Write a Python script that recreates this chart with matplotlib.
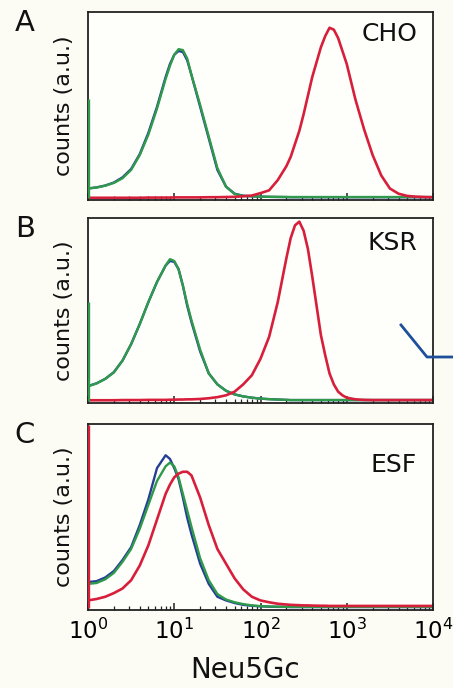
import numpy as np
import matplotlib
matplotlib.use("Agg")
import matplotlib.pyplot as plt
from matplotlib.lines import Line2D

plt.rcParams["font.family"] = ["DejaVu Sans"]

# log10 channel positions (decades of Neu5Gc signal), denser near the peaks
decades = [0.0, 0.1, 0.2, 0.3, 0.4, 0.5, 0.6, 0.7, 0.8, 0.9,
           0.95, 1.0, 1.05, 1.1, 1.15, 1.2,
           1.3, 1.4, 1.5, 1.6, 1.7, 1.8, 1.9, 2.0, 2.1, 2.2, 2.3,
           2.35, 2.4, 2.45, 2.5, 2.55, 2.6,
           2.7, 2.75, 2.8, 2.85, 2.9, 2.95,
           3.0, 3.1, 3.2, 3.3, 3.4, 3.5, 3.6, 3.7, 3.8, 3.9, 4.0]

# panel A - CHO
cho_blue = [0.05, 0.056, 0.066, 0.082, 0.11, 0.155, 0.235, 0.35, 0.49, 0.65,
            0.72, 0.77, 0.79, 0.785, 0.74, 0.66,
            0.49, 0.32, 0.15, 0.06, 0.022, 0.011, 0.008, 0.006, 0.005, 0.004, 0.004,
            0.003, 0.003, 0.003, 0.003, 0.003, 0.003,
            0.003, 0.003, 0.003, 0.003, 0.003, 0.003,
            0.003, 0.003, 0.003, 0.003, 0.003, 0.003, 0.003, 0.003, 0.003, 0.003, 0.003]
cho_green = [0.05, 0.055, 0.065, 0.08, 0.105, 0.15, 0.23, 0.34, 0.48, 0.64,
             0.71, 0.77, 0.80, 0.795, 0.75, 0.66,
             0.50, 0.33, 0.16, 0.06, 0.02, 0.01, 0.008, 0.006, 0.005, 0.005, 0.004,
             0.004, 0.004, 0.004, 0.004, 0.004, 0.004,
             0.004, 0.004, 0.004, 0.004, 0.004, 0.004,
             0.004, 0.004, 0.004, 0.004, 0.004, 0.004, 0.004, 0.004, 0.004, 0.004, 0.004]
cho_red = [0.0, 0.0, 0.0, 0.0, 0.0, 0.0, 0.0, 0.001, 0.001, 0.001,
           0.001, 0.002, 0.002, 0.002, 0.002, 0.002,
           0.002, 0.003, 0.003, 0.004, 0.005, 0.008, 0.012, 0.025, 0.04, 0.095, 0.17,
           0.22, 0.29, 0.36, 0.45, 0.55, 0.65,
           0.81, 0.87, 0.915, 0.905, 0.86, 0.79,
           0.72, 0.53, 0.37, 0.23, 0.12, 0.05, 0.022, 0.01, 0.006, 0.004, 0.003]
cho_spike = 0.53

# panel B - KSR
ksr_blue = [0.08, 0.096, 0.12, 0.157, 0.22, 0.31, 0.42, 0.54, 0.65, 0.74,
            0.765, 0.76, 0.72, 0.63, 0.52, 0.43,
            0.27, 0.15, 0.09, 0.055, 0.035, 0.024, 0.017, 0.012, 0.009, 0.007, 0.005,
            0.004, 0.004, 0.004, 0.004, 0.004, 0.004,
            0.004, 0.004, 0.004, 0.004, 0.004, 0.004,
            0.004, 0.004, 0.004, 0.004, 0.004, 0.004, 0.004, 0.004, 0.004, 0.004, 0.004]
ksr_green = [0.08, 0.095, 0.12, 0.155, 0.22, 0.31, 0.42, 0.54, 0.65, 0.74,
             0.775, 0.765, 0.72, 0.63, 0.53, 0.44,
             0.28, 0.15, 0.09, 0.055, 0.035, 0.024, 0.017, 0.012, 0.009, 0.007, 0.005,
             0.004, 0.004, 0.004, 0.004, 0.004, 0.004,
             0.004, 0.004, 0.004, 0.004, 0.004, 0.004,
             0.004, 0.004, 0.004, 0.004, 0.004, 0.004, 0.004, 0.004, 0.004, 0.004, 0.004]
ksr_red = [0.003, 0.003, 0.003, 0.003, 0.004, 0.004, 0.004, 0.005, 0.005, 0.005,
           0.006, 0.006, 0.007, 0.007, 0.008, 0.008,
           0.01, 0.014, 0.02, 0.03, 0.05, 0.09, 0.14, 0.23, 0.35, 0.54, 0.78,
           0.89, 0.96, 0.98, 0.93, 0.83, 0.68,
           0.36, 0.25, 0.15, 0.09, 0.05, 0.03,
           0.017, 0.008, 0.005, 0.004, 0.004, 0.004, 0.004, 0.004, 0.004, 0.004, 0.004]
ksr_spike = 0.54

# panel C - ESF
esf_blue = [0.14, 0.145, 0.165, 0.2, 0.26, 0.33, 0.45, 0.59, 0.76, 0.83,
            0.81, 0.76, 0.70, 0.60, 0.49, 0.40,
            0.24, 0.13, 0.06, 0.04, 0.026, 0.016, 0.011, 0.008, 0.006, 0.005, 0.005,
            0.004, 0.004, 0.004, 0.004, 0.004, 0.004,
            0.004, 0.004, 0.004, 0.004, 0.004, 0.004,
            0.004, 0.004, 0.004, 0.004, 0.004, 0.004, 0.004, 0.004, 0.004, 0.004, 0.004]
esf_green = [0.13, 0.135, 0.155, 0.19, 0.25, 0.32, 0.43, 0.56, 0.69, 0.77,
             0.79, 0.77, 0.71, 0.62, 0.53, 0.44,
             0.27, 0.15, 0.075, 0.045, 0.03, 0.02, 0.013, 0.009, 0.007, 0.006, 0.005,
             0.005, 0.005, 0.005, 0.005, 0.005, 0.005,
             0.005, 0.005, 0.005, 0.005, 0.005, 0.005,
             0.005, 0.005, 0.005, 0.005, 0.005, 0.005, 0.005, 0.005, 0.005, 0.005, 0.005]
esf_red = [0.04, 0.048, 0.06, 0.08, 0.105, 0.15, 0.23, 0.34, 0.48, 0.62,
           0.67, 0.71, 0.73, 0.74, 0.74, 0.72,
           0.60, 0.45, 0.32, 0.24, 0.16, 0.10, 0.06, 0.04, 0.03, 0.022, 0.018,
           0.016, 0.015, 0.014, 0.013, 0.013, 0.012,
           0.011, 0.011, 0.01, 0.01, 0.01, 0.01,
           0.01, 0.01, 0.01, 0.01, 0.01, 0.01, 0.01, 0.01, 0.01, 0.01, 0.01]
esf_spike = 0.995

panel_letters = ["A", "B", "C"]
cell_lines = ["CHO", "KSR", "ESF"]
tick_labels = ["$10^{0}$", "$10^{1}$", "$10^{2}$", "$10^{3}$", "$10^{4}$"]

red = "#d71f3b"
green = "#2f9a4b"
blue = "#263f94"

panels = [
    (cho_blue, cho_green, cho_red, cho_spike, green),
    (ksr_blue, ksr_green, ksr_red, ksr_spike, green),
    (esf_blue, esf_green, esf_red, esf_spike, red),
]

W, H = 453, 688
fig = plt.figure(figsize=(W / 100, H / 100), dpi=100, facecolor="#fcfcf5")

# axes boxes in pixels: (top, bottom)
boxes = [(12, 200), (218, 403), (424, 610)]
label_y = [0.883, 0.865, 0.78]
left, right = 88, 433

x = 10 ** np.array(decades)

for i, ((b, g, r, spike, spike_col), (top, bottom)) in enumerate(zip(panels, boxes)):
    ax = fig.add_axes([left / W, 1 - bottom / H, (right - left) / W, (bottom - top) / H])
    ax.set_facecolor("#fefefb")
    ax.set_xscale("log")
    ax.set_xlim(1, 1e4)
    ax.set_ylim(-0.012, 1.0)

    ax.plot(x, b, color=blue, lw=1.7)
    ax.plot(x, g, color=green, lw=1.7)
    ax.plot(x, r, color=red, lw=1.9)
    ax.vlines(1.0, 0, spike, color=spike_col, lw=2.4, zorder=3)

    for s in ax.spines.values():
        s.set_color("#222222")
        s.set_linewidth(1.3)

    ax.set_yticks([])
    ax.tick_params(axis="x", which="major", direction="in", length=5, width=1.1,
                   color="#222222", labelsize=16.5, pad=6)
    ax.tick_params(axis="x", which="minor", direction="in", length=3, width=0.9,
                   color="#222222")
    ax.set_xticks([1, 10, 100, 1000, 10000])
    if i == 2:
        ax.set_xticklabels(tick_labels)
    else:
        ax.set_xticklabels([])

    ax.text(0.954, label_y[i], cell_lines[i], transform=ax.transAxes,
            ha="right", va="center", fontsize=18, color="#111111")

    fig.text(25 / W, 1 - (top + 11) / H, panel_letters[i], ha="center", va="center",
             fontsize=21, color="#111111")
    fig.text(64 / W, 1 - (top + bottom) / 2 / H, "counts (a.u.)", rotation=90,
             ha="center", va="center", fontsize=16, color="#111111")

fig.text(245 / W, 1 - 670 / H, "Neu5Gc", ha="center", va="center",
         fontsize=20, color="#111111")

# stray blue stroke at right edge of the scan
fig.add_artist(Line2D([401 / W, 427 / W, 1.0], [1 - 325 / H, 1 - 357 / H, 1 - 357 / H],
                      transform=fig.transFigure, color="#1d4f9a", lw=2))

fig.savefig("out.png", dpi=100, facecolor=fig.get_facecolor())
